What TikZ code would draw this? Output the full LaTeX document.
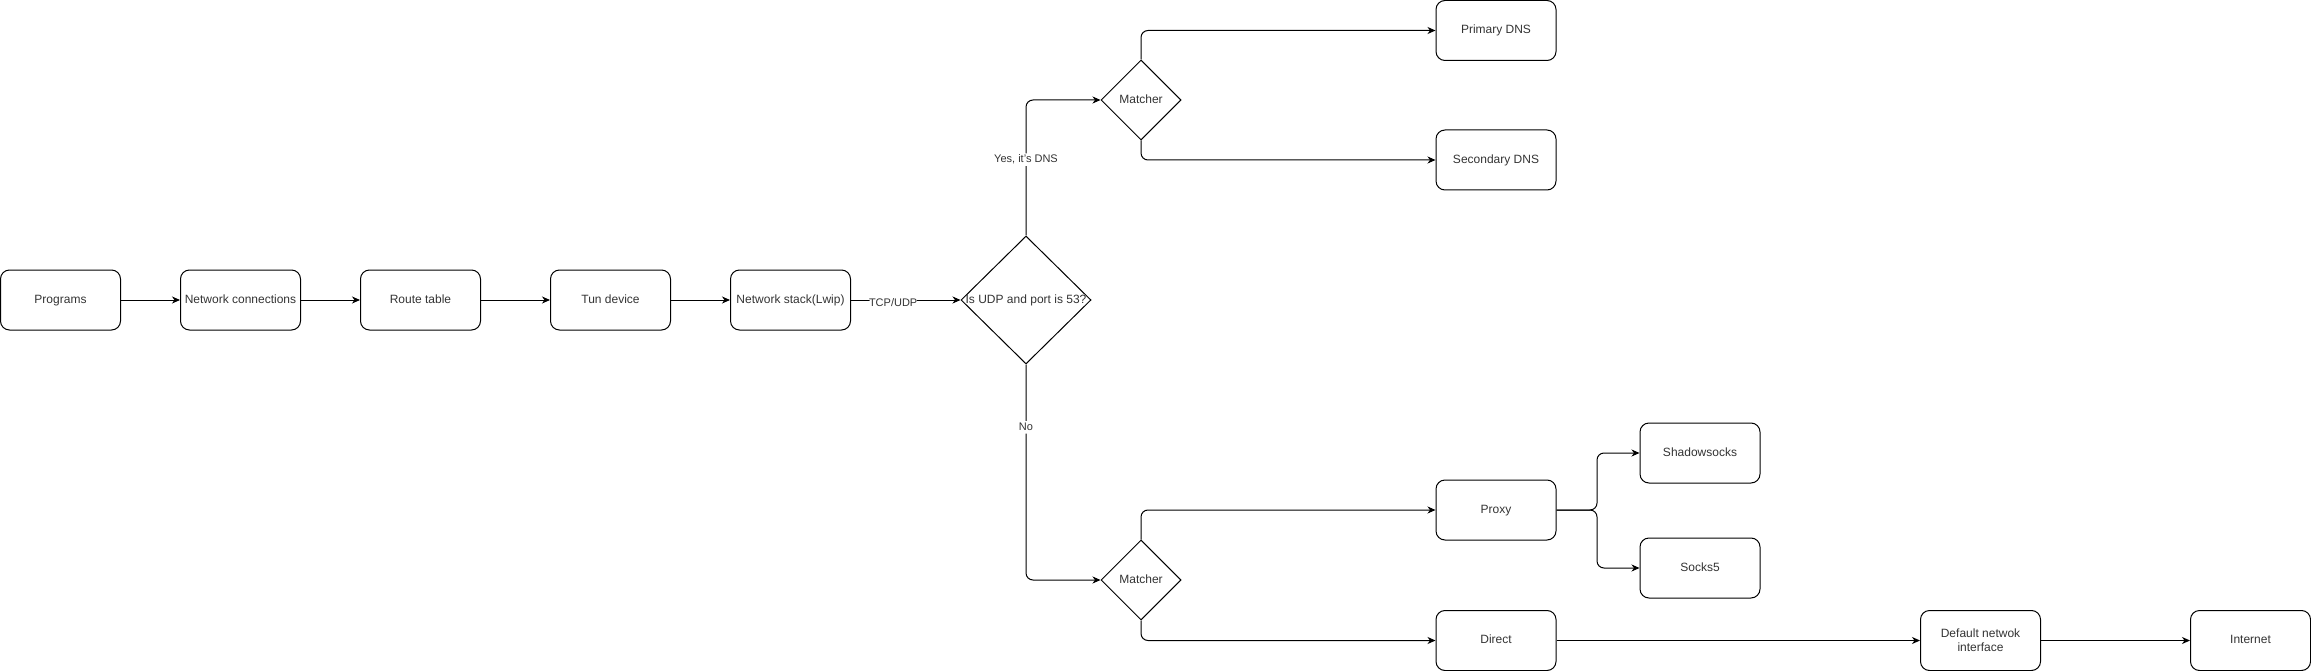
\documentclass[tikz,border=0pt]{standalone}
\usepackage{fontspec}
\setmainfont{Liberation Sans}
\usetikzlibrary{arrows.meta,shapes.geometric}
\definecolor{txt}{rgb}{0.2,0.2,0.2}
\begin{document}
\begin{tikzpicture}[x=1pt,y=-1pt,
  font=\fontsize{12}{14}\selectfont,
  boxbase/.style={draw=black,line width=1pt,rounded corners=9pt,minimum width=120pt,minimum height=60pt,inner sep=0pt,text=txt,align=center},
  box/.style={boxbase,text height=8.8pt,text depth=2.6pt},
  dia/.style={draw=black,line width=1pt,diamond,inner sep=0pt,text=txt,text height=8.8pt,text depth=2.6pt},
  conn/.style={draw=black,line width=1pt,rounded corners=7pt,-{Stealth[length=8pt,width=7pt,inset=2.5pt]}},
  lbl/.style={fill=white,inner sep=1pt,font=\fontsize{11}{13}\selectfont,text=txt,text height=8pt,text depth=2.4pt}]
\useasboundingbox (0,0) rectangle (2311,671);
% main row
\node[box] (prog) at (60.5,300) {Programs};
\node[box] (netc) at (240.5,300) {Network connections};
\node[box] (route) at (420.5,300) {Route table};
\node[box] (tun) at (610.5,300) {Tun device};
\node[box] (stack) at (790.5,300) {Network stack(Lwip)};
\node[dia,minimum width=130pt,minimum height=128pt] (q) at (1026,300) {\makebox[0pt]{Is UDP and port is 53?}};
% matchers
\node[dia,minimum width=80pt,minimum height=80pt] (m1) at (1141,100) {\makebox[0pt]{Matcher}};
\node[dia,minimum width=80pt,minimum height=80pt] (m2) at (1141,580) {\makebox[0pt]{Matcher}};
% targets
\node[box] (pdns) at (1496,30.5) {Primary DNS};
\node[box] (sdns) at (1496,160) {Secondary DNS};
\node[box] (proxy) at (1496,510) {Proxy};
\node[box] (direct) at (1496,640.5) {Direct};
\node[box] (ss) at (1700,453) {Shadowsocks};
\node[box] (s5) at (1700,568) {Socks5};
\node[boxbase] (dni) at (1980.5,640.5) {Default netwok\\interface};
\node[box] (inet) at (2250.5,640.5) {Internet};
\coordinate (br) at (1597,510);
% connectors
\draw[conn] (prog) -- (netc);
\draw[conn] (netc) -- (route);
\draw[conn] (route) -- (tun);
\draw[conn] (tun) -- (stack);
\draw[conn] (stack) -- node[lbl,pos=0.385,yshift=-4pt]{TCP/UDP} (q.west);
\draw[conn] (q.north) |- node[lbl,pos=0.28]{Yes, it's DNS} (m1.west);
\draw[conn] (q.south) |- node[lbl,pos=0.146]{No} (m2.west);
\draw[conn] (m1.north) |- (pdns.west);
\draw[conn] (m1.south) |- (sdns.west);
\draw[conn] (m2.north) |- (proxy.west);
\draw[conn] (m2.south) |- (direct.west);
\draw[conn] (proxy.east) -- (br) |- (ss.west);
\draw[conn] (proxy.east) -- (br) |- (s5.west);
\draw[conn] (direct) -- (dni);
\draw[conn] (dni) -- (inet);
\end{tikzpicture}
\end{document}
